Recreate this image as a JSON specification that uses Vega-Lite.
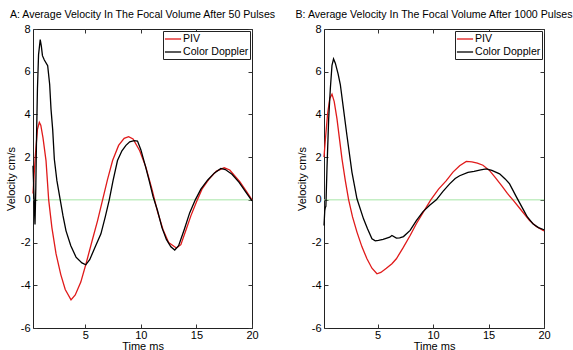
{
  "$schema": "https://vega.github.io/schema/vega-lite/v6.json",
  "padding": {"left": 4, "top": 9, "right": 0, "bottom": 0},
  "spacing": 72,
  "bounds": "flush",
  "background": "white",
  "config": {
    "font": "Liberation Sans",
    "view": {"stroke": "#222", "strokeWidth": 1},
    "axis": {
      "grid": false, "domain": false, "tickSize": -4, "tickColor": "#333", "tickWidth": 1,
      "labelFontSize": 11, "labelColor": "black", "labelFlush": false, "labelPadding": 7,
      "titleFontSize": 11, "titleFontWeight": "normal", "titleColor": "black"
    },
    "title": {"fontSize": 10.6, "fontWeight": "normal", "color": "black", "anchor": "middle", "offset": 2},
    "legend": {"labelFontSize": 10.6, "labelColor": "black"}
  },
  "datasets": {
    "A": [
      {"series": "PIV", "t": 0.3, "v": 0.3}, {"series": "PIV", "t": 0.5, "v": 2.0}, {"series": "PIV", "t": 0.7, "v": 3.3},
      {"series": "PIV", "t": 0.87, "v": 3.63}, {"series": "PIV", "t": 1.0, "v": 3.5}, {"series": "PIV", "t": 1.2, "v": 2.9},
      {"series": "PIV", "t": 1.47, "v": 1.84}, {"series": "PIV", "t": 1.71, "v": 0.0}, {"series": "PIV", "t": 2.0, "v": -1.3},
      {"series": "PIV", "t": 2.37, "v": -2.52}, {"series": "PIV", "t": 2.8, "v": -3.5}, {"series": "PIV", "t": 3.2, "v": -4.2},
      {"series": "PIV", "t": 3.72, "v": -4.68}, {"series": "PIV", "t": 4.1, "v": -4.45}, {"series": "PIV", "t": 4.6, "v": -3.85},
      {"series": "PIV", "t": 5.07, "v": -2.99}, {"series": "PIV", "t": 5.6, "v": -1.95}, {"series": "PIV", "t": 6.11, "v": -0.97},
      {"series": "PIV", "t": 6.56, "v": 0.0}, {"series": "PIV", "t": 7.0, "v": 0.95}, {"series": "PIV", "t": 7.46, "v": 1.84},
      {"series": "PIV", "t": 8.0, "v": 2.55}, {"series": "PIV", "t": 8.5, "v": 2.88}, {"series": "PIV", "t": 8.9, "v": 2.96},
      {"series": "PIV", "t": 9.3, "v": 2.85}, {"series": "PIV", "t": 9.9, "v": 2.3}, {"series": "PIV", "t": 10.46, "v": 1.52},
      {"series": "PIV", "t": 11.0, "v": 0.5}, {"series": "PIV", "t": 11.5, "v": -0.55}, {"series": "PIV", "t": 12.0, "v": -1.4},
      {"series": "PIV", "t": 12.5, "v": -2.0}, {"series": "PIV", "t": 13.2, "v": -2.25}, {"series": "PIV", "t": 13.6, "v": -2.1},
      {"series": "PIV", "t": 14.1, "v": -1.35}, {"series": "PIV", "t": 14.5, "v": -0.75}, {"series": "PIV", "t": 15.0, "v": -0.1},
      {"series": "PIV", "t": 15.5, "v": 0.5}, {"series": "PIV", "t": 16.1, "v": 0.95}, {"series": "PIV", "t": 16.8, "v": 1.35},
      {"series": "PIV", "t": 17.5, "v": 1.5}, {"series": "PIV", "t": 18.0, "v": 1.4}, {"series": "PIV", "t": 18.9, "v": 0.85},
      {"series": "PIV", "t": 19.5, "v": 0.4}, {"series": "PIV", "t": 20.0, "v": 0.0},
      {"series": "Color Doppler", "t": 0.3, "v": 1.6}, {"series": "Color Doppler", "t": 0.4, "v": 0.0}, {"series": "Color Doppler", "t": 0.48, "v": -1.15},
      {"series": "Color Doppler", "t": 0.55, "v": 0.5}, {"series": "Color Doppler", "t": 0.62, "v": 3.0}, {"series": "Color Doppler", "t": 0.7, "v": 5.2},
      {"series": "Color Doppler", "t": 0.8, "v": 6.8}, {"series": "Color Doppler", "t": 0.95, "v": 7.5}, {"series": "Color Doppler", "t": 1.05, "v": 7.2},
      {"series": "Color Doppler", "t": 1.15, "v": 6.75}, {"series": "Color Doppler", "t": 1.32, "v": 6.55}, {"series": "Color Doppler", "t": 1.62, "v": 6.28},
      {"series": "Color Doppler", "t": 1.8, "v": 5.4}, {"series": "Color Doppler", "t": 1.92, "v": 4.25}, {"series": "Color Doppler", "t": 2.07, "v": 3.3},
      {"series": "Color Doppler", "t": 2.22, "v": 1.9}, {"series": "Color Doppler", "t": 2.45, "v": 0.9}, {"series": "Color Doppler", "t": 2.75, "v": 0.0},
      {"series": "Color Doppler", "t": 3.0, "v": -0.75}, {"series": "Color Doppler", "t": 3.27, "v": -1.45}, {"series": "Color Doppler", "t": 3.7, "v": -2.15},
      {"series": "Color Doppler", "t": 4.17, "v": -2.68}, {"series": "Color Doppler", "t": 4.7, "v": -2.95}, {"series": "Color Doppler", "t": 5.05, "v": -3.04},
      {"series": "Color Doppler", "t": 5.4, "v": -2.8}, {"series": "Color Doppler", "t": 5.9, "v": -2.2}, {"series": "Color Doppler", "t": 6.41, "v": -1.59},
      {"series": "Color Doppler", "t": 6.8, "v": -0.8}, {"series": "Color Doppler", "t": 7.16, "v": 0.0}, {"series": "Color Doppler", "t": 7.5, "v": 0.9},
      {"series": "Color Doppler", "t": 7.9, "v": 1.84}, {"series": "Color Doppler", "t": 8.3, "v": 2.3}, {"series": "Color Doppler", "t": 8.66, "v": 2.55},
      {"series": "Color Doppler", "t": 9.0, "v": 2.72}, {"series": "Color Doppler", "t": 9.4, "v": 2.77}, {"series": "Color Doppler", "t": 9.7, "v": 2.75},
      {"series": "Color Doppler", "t": 10.0, "v": 2.35}, {"series": "Color Doppler", "t": 10.4, "v": 1.6}, {"series": "Color Doppler", "t": 10.75, "v": 0.9},
      {"series": "Color Doppler", "t": 11.1, "v": 0.15}, {"series": "Color Doppler", "t": 11.5, "v": -0.5}, {"series": "Color Doppler", "t": 11.9, "v": -1.3},
      {"series": "Color Doppler", "t": 12.3, "v": -1.85}, {"series": "Color Doppler", "t": 12.7, "v": -2.2}, {"series": "Color Doppler", "t": 13.05, "v": -2.35},
      {"series": "Color Doppler", "t": 13.4, "v": -2.15}, {"series": "Color Doppler", "t": 13.9, "v": -1.4}, {"series": "Color Doppler", "t": 14.4, "v": -0.6},
      {"series": "Color Doppler", "t": 14.9, "v": 0.0}, {"series": "Color Doppler", "t": 15.4, "v": 0.5}, {"series": "Color Doppler", "t": 16.0, "v": 0.92},
      {"series": "Color Doppler", "t": 16.6, "v": 1.25}, {"series": "Color Doppler", "t": 17.2, "v": 1.47}, {"series": "Color Doppler", "t": 17.6, "v": 1.42},
      {"series": "Color Doppler", "t": 18.2, "v": 1.2}, {"series": "Color Doppler", "t": 18.84, "v": 0.82}, {"series": "Color Doppler", "t": 19.4, "v": 0.4},
      {"series": "Color Doppler", "t": 20.0, "v": -0.05}
    ],
    "B": [
      {"series": "PIV", "t": 0.18, "v": 2.0}, {"series": "PIV", "t": 0.3, "v": 2.8}, {"series": "PIV", "t": 0.5, "v": 4.0},
      {"series": "PIV", "t": 0.7, "v": 4.75}, {"series": "PIV", "t": 0.9, "v": 4.95}, {"series": "PIV", "t": 1.1, "v": 4.6},
      {"series": "PIV", "t": 1.35, "v": 3.79}, {"series": "PIV", "t": 1.6, "v": 2.75}, {"series": "PIV", "t": 1.8, "v": 1.92},
      {"series": "PIV", "t": 2.1, "v": 0.9}, {"series": "PIV", "t": 2.4, "v": 0.0}, {"series": "PIV", "t": 2.75, "v": -0.8},
      {"series": "PIV", "t": 3.15, "v": -1.51}, {"series": "PIV", "t": 3.6, "v": -2.2}, {"series": "PIV", "t": 4.05, "v": -2.76},
      {"series": "PIV", "t": 4.5, "v": -3.2}, {"series": "PIV", "t": 4.95, "v": -3.46}, {"series": "PIV", "t": 5.3, "v": -3.4},
      {"series": "PIV", "t": 5.8, "v": -3.2}, {"series": "PIV", "t": 6.3, "v": -2.99}, {"series": "PIV", "t": 6.7, "v": -2.76},
      {"series": "PIV", "t": 7.3, "v": -2.25}, {"series": "PIV", "t": 7.94, "v": -1.67}, {"series": "PIV", "t": 8.5, "v": -1.12},
      {"series": "PIV", "t": 9.1, "v": -0.6}, {"series": "PIV", "t": 9.8, "v": 0.0}, {"series": "PIV", "t": 10.5, "v": 0.5},
      {"series": "PIV", "t": 11.2, "v": 0.9}, {"series": "PIV", "t": 11.8, "v": 1.3}, {"series": "PIV", "t": 12.4, "v": 1.6},
      {"series": "PIV", "t": 13.0, "v": 1.8}, {"series": "PIV", "t": 13.5, "v": 1.78}, {"series": "PIV", "t": 14.0, "v": 1.72},
      {"series": "PIV", "t": 14.5, "v": 1.62}, {"series": "PIV", "t": 15.1, "v": 1.37}, {"series": "PIV", "t": 15.6, "v": 1.05},
      {"series": "PIV", "t": 16.2, "v": 0.65}, {"series": "PIV", "t": 16.7, "v": 0.3}, {"series": "PIV", "t": 17.2, "v": 0.0},
      {"series": "PIV", "t": 17.9, "v": -0.45}, {"series": "PIV", "t": 18.7, "v": -0.97}, {"series": "PIV", "t": 19.3, "v": -1.25},
      {"series": "PIV", "t": 20.0, "v": -1.45},
      {"series": "Color Doppler", "t": 0.18, "v": -1.2}, {"series": "Color Doppler", "t": 0.25, "v": -0.5}, {"series": "Color Doppler", "t": 0.3, "v": -0.35},
      {"series": "Color Doppler", "t": 0.35, "v": -0.3}, {"series": "Color Doppler", "t": 0.45, "v": 1.5}, {"series": "Color Doppler", "t": 0.6, "v": 3.78},
      {"series": "Color Doppler", "t": 0.75, "v": 5.2}, {"series": "Color Doppler", "t": 0.9, "v": 6.3}, {"series": "Color Doppler", "t": 1.04, "v": 6.6},
      {"series": "Color Doppler", "t": 1.2, "v": 6.4}, {"series": "Color Doppler", "t": 1.45, "v": 5.9}, {"series": "Color Doppler", "t": 1.65, "v": 5.4},
      {"series": "Color Doppler", "t": 1.9, "v": 4.4}, {"series": "Color Doppler", "t": 2.25, "v": 3.0}, {"series": "Color Doppler", "t": 2.7, "v": 1.29},
      {"series": "Color Doppler", "t": 3.15, "v": 0.05}, {"series": "Color Doppler", "t": 3.74, "v": -0.89}, {"series": "Color Doppler", "t": 4.1, "v": -1.35},
      {"series": "Color Doppler", "t": 4.5, "v": -1.82}, {"series": "Color Doppler", "t": 4.8, "v": -1.92}, {"series": "Color Doppler", "t": 5.09, "v": -1.9},
      {"series": "Color Doppler", "t": 5.5, "v": -1.85}, {"series": "Color Doppler", "t": 5.84, "v": -1.79}, {"series": "Color Doppler", "t": 6.1, "v": -1.75},
      {"series": "Color Doppler", "t": 6.3, "v": -1.67}, {"series": "Color Doppler", "t": 6.7, "v": -1.79}, {"series": "Color Doppler", "t": 7.0, "v": -1.78},
      {"series": "Color Doppler", "t": 7.34, "v": -1.72}, {"series": "Color Doppler", "t": 7.94, "v": -1.43}, {"series": "Color Doppler", "t": 8.5, "v": -0.97},
      {"series": "Color Doppler", "t": 9.1, "v": -0.55}, {"series": "Color Doppler", "t": 9.7, "v": -0.25}, {"series": "Color Doppler", "t": 10.3, "v": 0.0},
      {"series": "Color Doppler", "t": 10.9, "v": 0.4}, {"series": "Color Doppler", "t": 11.5, "v": 0.75}, {"series": "Color Doppler", "t": 12.0, "v": 1.0},
      {"series": "Color Doppler", "t": 12.4, "v": 1.13}, {"series": "Color Doppler", "t": 13.15, "v": 1.29}, {"series": "Color Doppler", "t": 13.7, "v": 1.33},
      {"series": "Color Doppler", "t": 14.3, "v": 1.4}, {"series": "Color Doppler", "t": 14.8, "v": 1.45}, {"series": "Color Doppler", "t": 15.3, "v": 1.38},
      {"series": "Color Doppler", "t": 16.0, "v": 1.22}, {"series": "Color Doppler", "t": 16.5, "v": 0.98}, {"series": "Color Doppler", "t": 16.9, "v": 0.75},
      {"series": "Color Doppler", "t": 17.5, "v": 0.15}, {"series": "Color Doppler", "t": 18.1, "v": -0.42}, {"series": "Color Doppler", "t": 18.5, "v": -0.8},
      {"series": "Color Doppler", "t": 19.0, "v": -1.12}, {"series": "Color Doppler", "t": 19.5, "v": -1.3}, {"series": "Color Doppler", "t": 20.0, "v": -1.4}
    ]
  },
  "resolve": {"scale": {"x": "independent", "y": "independent", "color": "independent"}, "legend": {"color": "independent"}},
  "hconcat": [
    {
      "width": 219, "height": 299,
      "title": {"text": "A: Average Velocity In The Focal Volume After 50 Pulses"},
      "resolve": {"scale": {"x": "independent", "y": "independent"}, "axis": {"x": "independent", "y": "independent"}},
      "layer": [
        {
          "data": {"values": [{}]},
          "mark": {"type": "rule", "color": "#a6e6a6", "strokeWidth": 1},
          "encoding": {
            "x": {"datum": 0.3, "type": "quantitative", "scale": {"domain": [0.3, 20], "nice": false, "zero": false},
                  "axis": {"orient": "top", "values": [5, 10, 15, 20], "labels": false, "title": null}},
            "x2": {"datum": 20},
            "y": {"datum": 0, "type": "quantitative", "scale": {"domain": [-6, 8], "nice": false},
                  "axis": {"orient": "right", "values": [-6, -4, -2, 0, 2, 4, 6, 8], "labels": false, "title": null}}
          }
        },
        {
          "data": {"name": "A"},
          "mark": {"type": "line", "strokeWidth": 1.3},
          "encoding": {
            "x": {"field": "t", "type": "quantitative", "scale": {"domain": [0.3, 20], "nice": false, "zero": false},
                  "axis": {"orient": "bottom", "values": [5, 10, 15, 20], "title": "Time ms", "titlePadding": 0, "labelPadding": 5}},
            "y": {"field": "v", "type": "quantitative", "scale": {"domain": [-6, 8], "nice": false},
                  "axis": {"orient": "left", "values": [-6, -4, -2, 0, 2, 4, 6, 8], "title": "Velocity cm/s", "titlePadding": 4,
                           "labelExpr": "datum.value < 0 ? '-' + abs(datum.value) : '' + datum.value"}},
            "color": {"field": "series", "type": "nominal",
                      "scale": {"domain": ["PIV", "Color Doppler"], "range": ["#e01a1a", "#000000"]},
                      "legend": {"title": null, "orient": "top-right", "offset": 2, "strokeColor": "#222", "fillColor": "white",
                                 "padding": 1, "symbolType": "M-1.35,0H1.35", "symbolStrokeWidth": 1.3, "symbolSize": 144,
                                 "symbolOffset": 2, "rowPadding": 0, "labelOffset": 3}}
          }
        }
      ]
    },
    {
      "width": 220, "height": 299,
      "title": {"text": "B: Average Velocity In The Focal Volume After 1000 Pulses"},
      "resolve": {"scale": {"x": "independent", "y": "independent"}, "axis": {"x": "independent", "y": "independent"}},
      "layer": [
        {
          "data": {"values": [{}]},
          "mark": {"type": "rule", "color": "#a6e6a6", "strokeWidth": 1},
          "encoding": {
            "x": {"datum": 0.18, "type": "quantitative", "scale": {"domain": [0.18, 20], "nice": false, "zero": false},
                  "axis": {"orient": "top", "values": [5, 10, 15, 20], "labels": false, "title": null}},
            "x2": {"datum": 20},
            "y": {"datum": 0, "type": "quantitative", "scale": {"domain": [-6, 8], "nice": false},
                  "axis": {"orient": "right", "values": [-6, -4, -2, 0, 2, 4, 6, 8], "labels": false, "title": null}}
          }
        },
        {
          "data": {"name": "B"},
          "mark": {"type": "line", "strokeWidth": 1.3},
          "encoding": {
            "x": {"field": "t", "type": "quantitative", "scale": {"domain": [0.18, 20], "nice": false, "zero": false},
                  "axis": {"orient": "bottom", "values": [5, 10, 15, 20], "title": "Time ms", "titlePadding": 0, "labelPadding": 5}},
            "y": {"field": "v", "type": "quantitative", "scale": {"domain": [-6, 8], "nice": false},
                  "axis": {"orient": "left", "values": [-6, -4, -2, 0, 2, 4, 6, 8], "title": "Velocity cm/s", "titlePadding": 4,
                           "labelExpr": "datum.value < 0 ? '-' + abs(datum.value) : '' + datum.value"}},
            "color": {"field": "series", "type": "nominal",
                      "scale": {"domain": ["PIV", "Color Doppler"], "range": ["#e01a1a", "#000000"]},
                      "legend": {"title": null, "orient": "top-right", "offset": 2, "strokeColor": "#222", "fillColor": "white",
                                 "padding": 1, "symbolType": "M-1.35,0H1.35", "symbolStrokeWidth": 1.3, "symbolSize": 144,
                                 "symbolOffset": 2, "rowPadding": 0, "labelOffset": 3}}
          }
        }
      ]
    }
  ]
}
